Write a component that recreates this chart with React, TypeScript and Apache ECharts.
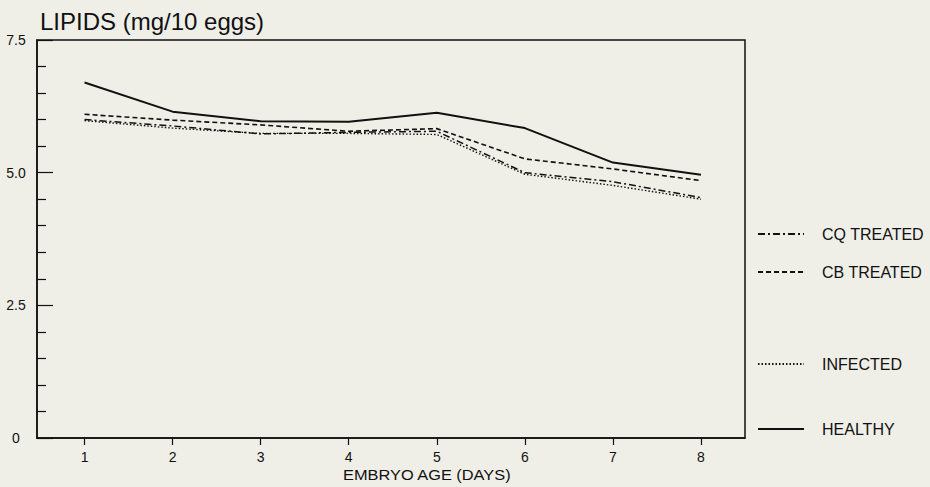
import React, { useEffect, useRef } from "react";
import * as echarts from "echarts";

const days = [1, 2, 3, 4, 5, 6, 7, 8];
const healthy = [6.7, 6.15, 5.97, 5.96, 6.13, 5.84, 5.19, 4.96];
const cbTreated = [6.1, 5.99, 5.9, 5.78, 5.83, 5.26, 5.07, 4.85];
const cqTreated = [6.0, 5.88, 5.73, 5.76, 5.78, 5.0, 4.83, 4.53];
const infected = [5.98, 5.84, 5.74, 5.74, 5.72, 4.97, 4.76, 4.5];
const yTicks = [0, 2.5, 5.0, 7.5];

const FONT = "Liberation Sans, Arial, Helvetica, sans-serif";

export default function App() {
  const ref = useRef<HTMLDivElement>(null);
  useEffect(() => {
    document.body.style.margin = "0";
    const chart = echarts.init(ref.current!, null, { renderer: "svg" });
    const mk = (arr: number[]) => days.map((d, i) => [d, arr[i]]);
    const seriesDefs = [
      { name: "CQ TREATED", data: cqTreated, type: [7, 3, 2, 3] as any, width: 1.5, legendTop: 221 },
      { name: "CB TREATED", data: cbTreated, type: [5, 3] as any, width: 1.6, legendTop: 259 },
      { name: "INFECTED", data: infected, type: [1.5, 2] as any, width: 1.4, legendTop: 351 },
      { name: "HEALTHY", data: healthy, type: "solid", width: 2, legendTop: 416 },
    ];
    chart.setOption({
      animation: false,
      backgroundColor: "#efefe8",
      textStyle: { fontFamily: FONT, color: "#111" },
      title: {
        text: "LIPIDS (mg/10 eggs)",
        left: 35,
        top: 4,
        textStyle: { fontSize: 24, fontWeight: "normal", color: "#111", fontFamily: FONT },
      },
      legend: seriesDefs.map((s) => ({
        data: [s.name],
        left: 752,
        top: s.legendTop,
        itemWidth: 46,
        itemHeight: 14,
        itemStyle: { color: "transparent", borderWidth: 0, opacity: 0 },
        textStyle: { fontSize: 16, color: "#111", fontFamily: FONT, padding: [0, 0, 0, 13] },
        selectedMode: false,
      })),
      grid: {
        left: 37,
        right: 185,
        top: 40,
        bottom: 49,
        show: true,
        borderColor: "#111",
        borderWidth: 1.5,
        backgroundColor: "transparent",
      },
      xAxis: {
        type: "value",
        min: 0.46,
        max: 8.5,
        axisLine: { show: true, lineStyle: { color: "#111", width: 1.5 } },
        axisTick: { show: true, length: 7, customValues: days, lineStyle: { color: "#111", width: 1.2 } },
        axisLabel: { customValues: days, fontSize: 14, color: "#111", margin: 12, fontFamily: FONT },
        splitLine: { show: false },
      },
      yAxis: {
        type: "value",
        min: 0,
        max: 7.5,
        interval: 2.5,
        axisLine: { show: true, lineStyle: { color: "#111", width: 1.5 } },
        axisTick: { show: true, inside: true, length: 16, lineStyle: { color: "#111", width: 1.2 } },
        minorTick: { show: true, splitNumber: 5, length: 9, lineStyle: { color: "#111", width: 1.2 } },
        axisLabel: {
          fontSize: 14,
          color: "#111",
          align: "center",
          margin: 21,
          fontFamily: FONT,
          formatter: (v: number) => (v === 0 ? "0" : v.toFixed(1)),
          customValues: yTicks,
        },
        splitLine: { show: false },
      },
      graphic: [
        {
          type: "text",
          x: 343,
          y: 468,
          scaleX: 1.17,
          style: { text: "EMBRYO AGE (DAYS)", fontSize: 14, fill: "#111", fontFamily: FONT },
        },
      ],
      series: seriesDefs.map((s) => ({
        name: s.name,
        type: "line",
        data: mk(s.data),
        symbol: "none",
        color: "#111",
        lineStyle: { color: "#111", width: s.width, type: s.type },
      })),
    });
    return () => chart.dispose();
  }, []);
  return <div ref={ref} style={{ width: 930, height: 487 }} />;
}
